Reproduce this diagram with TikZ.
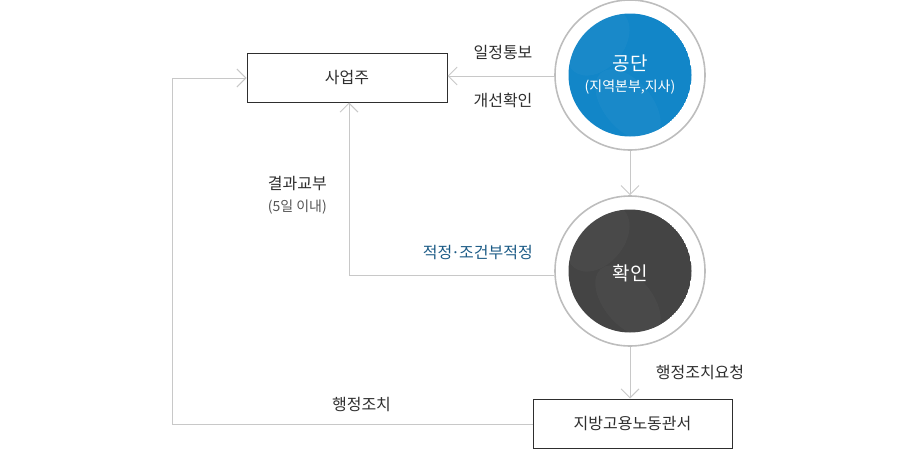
\documentclass[tikz,border=0pt]{standalone}
\usepackage{fontspec}
\setmainfont{Noto Sans CJK KR}
\usetikzlibrary{arrows.meta,calc}
\definecolor{linegray}{HTML}{C8C8C8}
\definecolor{ringgray}{HTML}{BDBDBD}
\definecolor{txt}{HTML}{2E2E2E}
\definecolor{subtxt}{HTML}{555555}
\definecolor{bluefill}{HTML}{1286C8}
\definecolor{darkfill}{HTML}{444444}
\definecolor{labelblue}{HTML}{1C5B86}
\tikzset{
  boxnode/.style={draw=txt, line width=1pt, minimum width=200pt, minimum height=49pt, inner sep=0pt, text=txt, font=\fontsize{16}{19}\selectfont},
  ringnode/.style={circle, draw=ringgray, line width=1.6pt, minimum size=150pt, inner sep=0pt},
  conn/.style={draw=linegray, line width=0.9pt},
  arr/.style={conn, -{Straight Barb[length=9pt,width=18pt,line width=0.9pt]}},
  lbl/.style={text=txt, font=\fontsize{16}{19}\selectfont, inner sep=0pt},
  sublbl/.style={text=subtxt, font=\fontsize{14}{17}\selectfont, inner sep=0pt},
}
\begin{document}
\begin{tikzpicture}[x=1pt,y=-1pt]
\useasboundingbox (0,0) rectangle (915,450);
% nodes
\node[boxnode] (owner) at (347,77.5) {사업주};
\node[boxnode, minimum width=199pt] (labor) at (632.5,423.5) {지방고용노동관서};
\node[ringnode] (gong) at (630,75) {};
\node[ringnode] (chk) at (630,271) {};
% inner discs
\begin{scope}
  \clip (630,75) circle (61.5);
  \fill[bluefill] (630,75) circle (61.5);
  \fill[white, opacity=0.03, rotate around={-40:(598,42)}] (598,42) ellipse (26 and 38);
  \fill[white, opacity=0.03, rotate around={40:(628,105)}] (628,105) ellipse (24 and 42);
\end{scope}
\begin{scope}
  \clip (630,271) circle (61.5);
  \fill[darkfill] (630,271) circle (61.5);
  \fill[white, opacity=0.03, rotate around={-40:(598,238)}] (598,238) ellipse (26 and 38);
  \fill[white, opacity=0.03, rotate around={40:(628,301)}] (628,301) ellipse (24 and 42);
\end{scope}
\node[text=white, font=\fontsize{19}{22}\selectfont, inner sep=0pt] (gongt) at (630,63) {공단};
\node[text=white, font=\fontsize{14}{17}\selectfont, inner sep=0pt] (gongs) at (630,87) {(지역본부,지사)};
\node[text=white, font=\fontsize{19}{22}\selectfont, inner sep=0pt] (chkt) at (630,273) {확인};
% helper coordinates
\coordinate (c1) at (349,275);
\coordinate (c2) at (172,424);
\coordinate (c3) at (172,78);
% connectors
\draw[arr] (gong.west |- 0,76) -- (owner.east |- 0,76);
\draw[arr] (gong.south) -- (chk.north);
\draw[conn] (chk.west |- c1) -- (c1);
\draw[arr] (c1) -- (c1 |- owner.south);
\draw[arr] (chk.south) -- (chk.south |- labor.north);
\draw[conn] (labor.west |- c2) -- (c2) -- (c3);
\draw[arr] (c3) -- (owner.west |- c3);
% labels
\node[lbl] (l1) at (503,52) {일정통보};
\node[lbl] (l2) at (503,100) {개선확인};
\node[lbl, anchor=east] (l3) at (327,184) {결과교부};
\node[sublbl, anchor=east] (l4) at (327,207) {(5일 이내)};
\node[lbl, anchor=east, text=labelblue] (l5) at (533,253) {적정{\kern-1pt}·{\kern-1pt}조건부적정};
\node[lbl] (l6) at (700,372) {행정조치요청};
\node[lbl] (l7) at (361.5,405) {행정조치};
\end{tikzpicture}
\end{document}
